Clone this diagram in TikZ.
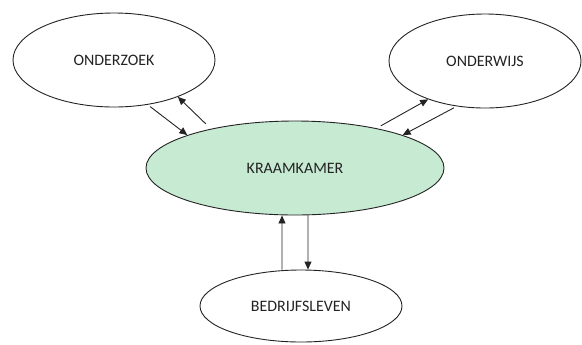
\documentclass[tikz,border=0pt]{standalone}
\usepackage{fontspec}
\setmainfont{Carlito}
\usetikzlibrary{arrows.meta, shapes.geometric}
\definecolor{kraamgreen}{RGB}{199,235,210}
\definecolor{inkgray}{RGB}{35,35,35}

\begin{document}
\begin{tikzpicture}[x=1bp, y=-1bp,
	    >={Triangle[length=8bp,width=7bp]},
	    field/.style={ellipse, draw=inkgray, line width=0.9bp, inner sep=0pt, text=inkgray, font=\fontsize{16}{18}\selectfont},
	    link/.style={->, line width=0.9bp, inkgray}
	  ]
	  \useasboundingbox (0,0) rectangle (582,344);
	  % the four fields
	  \node[field, minimum width=202bp, minimum height=94bp] (onderzoek) at (114,60) {ONDERZOEK};
	  \node[field, minimum width=192bp, minimum height=94bp] (onderwijs) at (485,61) {ONDERWIJS};
	  \node[field, fill=kraamgreen, minimum width=298bp, minimum height=94bp] (kraam) at (295,168) {KRAAMKAMER};
	  \node[field, minimum width=202bp, minimum height=72bp] (bedrijf) at (301,306) {BEDRIJFSLEVEN};
	 
	  % exchange with onderzoek
	  \draw[link, shorten <=3bp] (onderzoek.-53) -- (kraam.163);
	  \draw[link, shorten <=7bp] (kraam.155) -- (onderzoek.-30);
	 
	  % exchange with onderwijs
	  \draw[link, shorten <=5bp] (kraam.26) -- (onderwijs.-146);
	  \draw[link, shorten <=3bp] (onderwijs.-122) -- (kraam.17);
	 
	  % exchange with bedrijfsleven
	  \draw[link] ([xshift=-19bp]bedrijf.north) -- ([xshift=-13bp]kraam.south);
	  \draw[link] ([xshift=13bp]kraam.south) -- ([xshift=7bp]bedrijf.north);
	\end{tikzpicture}
\end{document}
